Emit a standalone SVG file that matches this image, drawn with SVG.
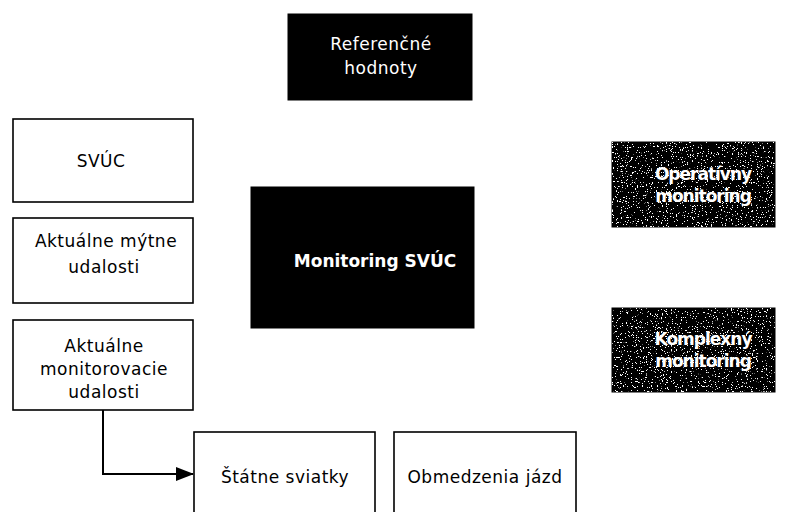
<svg xmlns="http://www.w3.org/2000/svg" width="790" height="512" viewBox="0 0 790 512">
<style>
.w{fill:#fff;stroke:#000;stroke-width:1.6}
.b{fill:#000;stroke:#000;stroke-width:1}
.t{font-family:"DejaVu Sans",Verdana,sans-serif;font-size:17px;letter-spacing:0.5px;fill:#000;text-anchor:middle}
.tw{font-family:"DejaVu Sans",Verdana,sans-serif;font-size:17px;letter-spacing:0.5px;fill:#fff;text-anchor:middle}
.tb{font-family:"DejaVu Sans",Verdana,sans-serif;font-size:17px;font-weight:bold;fill:#fff;text-anchor:middle}
.c{fill:none;stroke:#000;stroke-width:2}
</style>
<defs>
<filter id="speck" x="0" y="0" width="100%" height="100%">
<feTurbulence type="fractalNoise" baseFrequency="0.8" numOctaves="2" seed="3" result="n"/>
<feColorMatrix in="n" type="matrix" values="0 0 0 0 1  0 0 0 0 1  0 0 0 0 1  30 0 0 0 -19.5" result="s"/>
<feComposite in="s" in2="SourceGraphic" operator="in"/>
</filter>
<marker id="arr" markerWidth="18" markerHeight="14" refX="17" refY="7" orient="auto" markerUnits="userSpaceOnUse">
<path d="M0,0 L18,7 L0,14 Z" fill="#000"/>
</marker>
</defs>
<g id="connectors">
<path class="c" d="M103,410 V474 H193" marker-end="url(#arr)"/>
</g>
<g id="referencne">
<rect class="b" x="288" y="14" width="184" height="86"/>
<text class="tw" x="381" y="50">Referenčné</text>
<text class="tw" x="381" y="74">hodnoty</text>
</g>
<g id="svuc">
<rect class="w" x="13" y="119" width="180" height="83"/>
<text class="t" x="101" y="167">SVÚC</text>
</g>
<g id="mytne">
<rect class="w" x="13" y="218" width="180" height="85"/>
<text class="t" x="106" y="247">Aktuálne mýtne</text>
<text class="t" x="104" y="273">udalosti</text>
</g>
<g id="monitorovacie">
<rect class="w" x="13" y="320" width="180" height="90"/>
<text class="t" x="104" y="352">Aktuálne</text>
<text class="t" x="104" y="375">monitorovacie</text>
<text class="t" x="104" y="398">udalosti</text>
</g>
<g id="monitoring">
<rect class="b" x="251" y="187" width="223" height="141"/>
<text class="tb" x="375" y="267">Monitoring SVÚC</text>
</g>
<g id="operativny">
<rect class="b" x="612" y="142" width="163" height="85"/>
<rect x="612" y="142" width="163" height="85" fill="#000" filter="url(#speck)"/>
<text class="tb" x="703" y="180" style="letter-spacing:-1px">Operatívny</text>
<text class="tb" x="703" y="202" style="letter-spacing:-1px">monitoring</text>
</g>
<g id="komplexny">
<rect class="b" x="612" y="308" width="163" height="84"/>
<rect x="612" y="308" width="163" height="84" fill="#000" filter="url(#speck)"/>
<text class="tb" x="703" y="345" style="letter-spacing:-1px">Komplexný</text>
<text class="tb" x="703" y="367" style="letter-spacing:-1px">monitoring</text>
</g>
<g id="statne">
<rect class="w" x="194" y="432" width="181" height="100"/>
<text class="t" x="285" y="483">Štátne sviatky</text>
</g>
<g id="obmedzenia">
<rect class="w" x="394" y="432" width="182" height="100"/>
<text class="t" x="485" y="483">Obmedzenia jázd</text>
</g>
</svg>
